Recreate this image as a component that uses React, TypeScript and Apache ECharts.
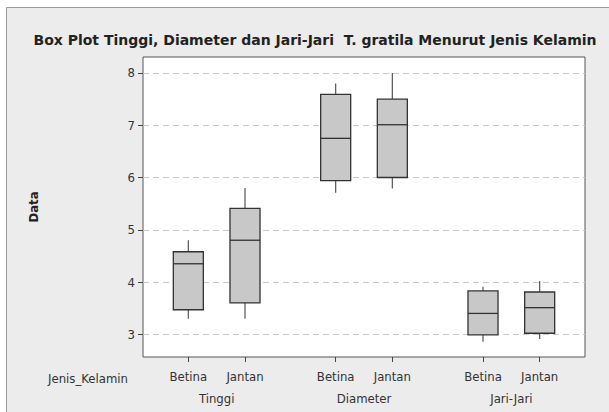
import React, { useEffect, useRef } from "react";
import * as echarts from "echarts";

const titleText = "Box Plot Tinggi, Diameter dan Jari-Jari  T. gratila Menurut Jenis Kelamin";
const xPositions = [1, 2, 3.6, 4.6, 6.2, 7.2];
const sexLabels = ["Betina", "Jantan", "Betina", "Jantan", "Betina", "Jantan"];
const groupPositions = [1.5, 4.1, 6.7];
const groupLabels = ["Tinggi", "Diameter", "Jari-Jari"];
const yTicks = [3, 4, 5, 6, 7, 8];
// [min, Q1, median, Q3, max]
const tinggiBetina = [3.3, 3.47, 4.35, 4.58, 4.8];
const tinggiJantan = [3.3, 3.6, 4.8, 5.41, 5.8];
const diameterBetina = [5.71, 5.94, 6.75, 7.59, 7.8];
const diameterJantan = [5.79, 6.0, 7.01, 7.5, 8.0];
const jariBetina = [2.86, 2.99, 3.4, 3.83, 3.91];
const jariJantan = [2.91, 3.02, 3.51, 3.81, 4.02];

const boxes = [tinggiBetina, tinggiJantan, diameterBetina, diameterJantan, jariBetina, jariJantan];

const FONT = "'DejaVu Sans Condensed', 'Liberation Sans', 'DejaVu Sans', sans-serif";
const TITLE_FONT = "'DejaVu Sans', 'Liberation Sans', sans-serif";

export default function App() {
  const ref = useRef<HTMLDivElement>(null);
  useEffect(() => {
    if (!ref.current) return;
    const chart = echarts.init(ref.current, undefined, { renderer: "svg" });
    const data = boxes.map((b, i) => [xPositions[i], ...b]);
    const findLabel = (v: number, pos: number[], labels: string[]) => {
      const idx = pos.findIndex((p) => Math.abs(p - v) < 1e-6);
      return idx >= 0 ? labels[idx] : "";
    };
    chart.setOption({
      animation: false,
      backgroundColor: "#ececec",
      textStyle: { fontFamily: FONT },
      title: {
        text: titleText,
        left: 310,
        textAlign: "center",
        top: 28,
        textStyle: { fontFamily: TITLE_FONT, fontSize: 14, fontWeight: "bold", color: "#222" },
      },
      graphic: [
        { type: "rect", shape: { x: 0, y: 0, width: 609, height: 7 }, style: { fill: "#fff" }, silent: true },
        { type: "rect", shape: { x: 0, y: 0, width: 6, height: 412 }, style: { fill: "#fff" }, silent: true },
        { type: "line", shape: { x1: 6.5, y1: 7.5, x2: 609, y2: 7.5 }, style: { stroke: "#9a9a9a", lineWidth: 1 }, silent: true },
        { type: "line", shape: { x1: 6.5, y1: 7.5, x2: 6.5, y2: 412 }, style: { stroke: "#9a9a9a", lineWidth: 1 }, silent: true },
        {
          type: "text",
          x: 88,
          y: 378,
          style: { text: "Jenis_Kelamin", fill: "#333", font: `13px ${FONT}`, align: "center", verticalAlign: "middle" },
        },
      ],
      grid: {
        left: 143,
        top: 57,
        width: 442,
        height: 300,
        show: true,
        backgroundColor: "#ffffff",
        borderColor: "#555",
        borderWidth: 1,
      },
      xAxis: [
        {
          type: "value",
          min: 0.2,
          max: 8.0,
          position: "bottom",
          axisLine: { show: false },
          splitLine: { show: false },
          axisTick: { show: true, length: 5, customValues: xPositions, lineStyle: { color: "#444" } },
          axisLabel: {
            customValues: xPositions,
            formatter: (v: number) => findLabel(v, xPositions, sexLabels),
            color: "#333",
            fontSize: 13,
            fontFamily: FONT,
            margin: 13,
          },
        },
        {
          type: "value",
          min: 0.2,
          max: 8.0,
          position: "bottom",
          offset: 22,
          axisLine: { show: false },
          splitLine: { show: false },
          axisTick: { show: false },
          axisLabel: {
            customValues: groupPositions,
            formatter: (v: number) => findLabel(v, groupPositions, groupLabels),
            color: "#333",
            fontSize: 13,
            fontFamily: FONT,
            margin: 13,
          },
        },
      ],
      yAxis: {
        type: "value",
        min: 2.566,
        max: 8.306,
        name: "Data",
        nameLocation: "middle",
        nameGap: 103,
        nameTextStyle: { fontFamily: FONT, fontSize: 13, fontWeight: "bold", color: "#222" },
        axisLine: { show: false },
        axisTick: { show: true, length: 5, customValues: yTicks, lineStyle: { color: "#444" } },
        axisLabel: { customValues: yTicks, color: "#333", fontSize: 13, fontFamily: FONT, margin: 8 },
        splitLine: { show: true, lineStyle: { color: "#c8c8c8", type: [6, 4], width: 1 } },
      },
      series: [
        {
          type: "custom",
          xAxisIndex: 0,
          encode: { x: 0, y: [1, 2, 3, 4, 5] },
          data,
          renderItem: (params: any, api: any) => {
            const x = api.value(0);
            const mn = api.coord([x, api.value(1)]);
            const q1 = api.coord([x, api.value(2)]);
            const md = api.coord([x, api.value(3)]);
            const q3 = api.coord([x, api.value(4)]);
            const mx = api.coord([x, api.value(5)]);
            const left = api.coord([x - 0.265, api.value(2)])[0];
            const right = api.coord([x + 0.265, api.value(2)])[0];
            return {
              type: "group",
              children: [
                { type: "line", shape: { x1: mx[0], y1: mx[1], x2: q3[0], y2: q3[1] }, style: { stroke: "#555", lineWidth: 1.2 } },
                { type: "line", shape: { x1: q1[0], y1: q1[1], x2: mn[0], y2: mn[1] }, style: { stroke: "#555", lineWidth: 1.2 } },
                {
                  type: "rect",
                  shape: { x: left, y: q3[1], width: right - left, height: q1[1] - q3[1] },
                  style: { fill: "#c8c8c8", stroke: "#333", lineWidth: 1.3 },
                },
                { type: "line", shape: { x1: left, y1: md[1], x2: right, y2: md[1] }, style: { stroke: "#333", lineWidth: 1.3 } },
              ],
            };
          },
        },
      ],
    });
    return () => chart.dispose();
  }, []);
  return <div ref={ref} style={{ position: "absolute", left: 0, top: 0, width: 609, height: 412 }} />;
}
